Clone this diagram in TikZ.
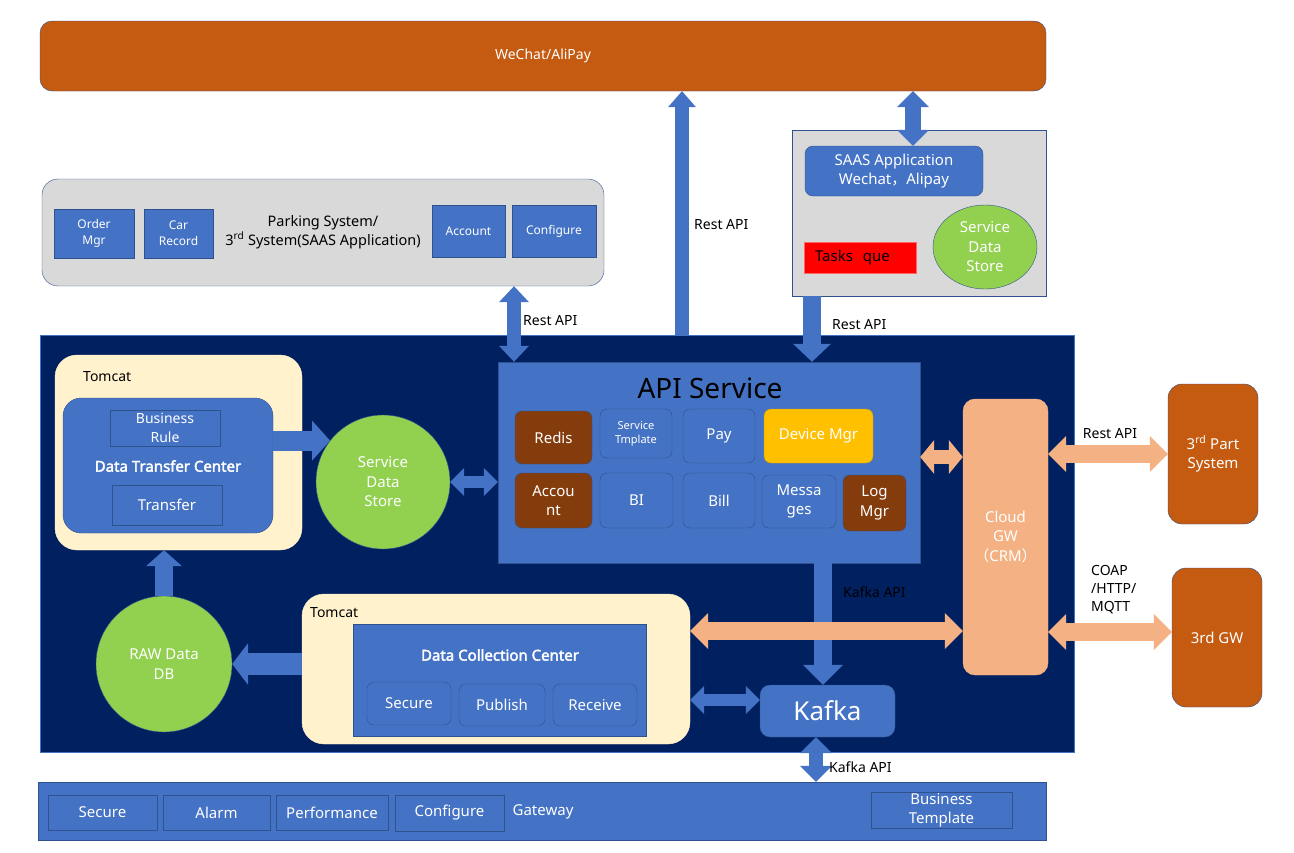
\documentclass[tikz,border=0pt]{standalone}
\usepackage{fontspec}
\setmainfont{Noto Sans}[AutoFakeBold=2.5]
\newfontfamily\cjk{Noto Sans CJK SC}
\usetikzlibrary{arrows.meta,shapes.geometric}

\definecolor{rust}{HTML}{C55A11}
\definecolor{navy}{HTML}{002060}
\definecolor{office}{HTML}{4472C4}
\definecolor{edge}{HTML}{2F528F}
\definecolor{cream}{HTML}{FFF2CC}
\definecolor{lgrey}{HTML}{D9D9D9}
\definecolor{lime}{HTML}{92D050}
\definecolor{brown}{HTML}{843C0C}
\definecolor{gold}{HTML}{FFC000}
\definecolor{peach}{HTML}{F4B183}

\begin{document}
\begin{tikzpicture}[x=1pt, y=-1pt,
    txt/.style={font=\fontsize{#1}{\fpeval{#1*1.3}}\selectfont},
    sq/.style 2 args={minimum width=#1, minimum height=#2},
    box/.style={draw=edge, fill=office, text=white, align=center, inner sep=1pt, txt=14},
    cell/.style={box, rounded corners=7pt, txt=15},
    tank/.style={circle, draw=edge, fill=lime, text=white, align=center, inner sep=0pt, txt=15},
    note/.style={text=black, align=left, inner sep=1pt, txt=14},
    pipe/.style={draw=office, line width=#1},
    warm/.style={draw=peach, line width=#1},
    one/.style 2 args={-{Triangle[width=#1, length=#2, line width=0pt]}},
    two/.style 2 args={{Triangle[width=#1, length=#2, line width=0pt]}-{Triangle[width=#1, length=#2, line width=0pt]}}]

    \useasboundingbox (0,0) rectangle (1294,852);

    % Top bar
    \node[box, fill=rust, sq={1006}{70}, rounded corners=12pt] (wechat) at (543,56) {WeChat/AliPay};

    % Parking system
    \node[box, fill=lgrey, sq={562}{107}, rounded corners=16pt] (parking) at (323,232.5) {};
    \node[box, sq={80}{49}, txt=12] (order) at (94,233.5) {Order\\Mgr};
    \node[box, sq={69}{49}, txt=12] (car) at (178.5,233.5) {Car\\Record};
    \node[note, align=center, txt=14.5] (ptitle) at (323,232) {Parking System/\\3\textsuperscript{rd} System(SAAS Application)};
    \node[box, sq={73}{52}, txt=12] (paccount) at (468.5,231) {Account};
    \node[box, sq={84}{52}, txt=12] (pconfig) at (554,231) {Configure};

    % SAAS application
    \node[box, fill=lgrey, sq={254}{166}] (saas) at (919,213) {};
    \node[box, sq={178}{50}, rounded corners=8pt, txt=15] (saasapp) at (894,171) {SAAS Application\\Wechat{\cjk ，}Alipay};
    \node[box, fill=red, draw=red!60, text=black, sq={112}{31}, text width=90, inner xsep=11pt, align=left, txt=15] (tasks) at (860,257.5) {Tasks\ \ que};
    \node[tank, ellipse, sq={104}{84}] (saasstore) at (985,247) {Service\\Data\\Store};

    % Main platform
    \node[box, fill=navy, draw=office, sq={1034}{417}] (main) at (557,543.5) {};

    \node[box, fill=cream, draw=cream, sq={247}{195}, rounded corners=22pt] (tomcatA) at (178.5,452.5) {};
    \node[note, anchor=west] (tomcatAlbl) at (82,377) {Tomcat};
    \node[box, sq={210}{135}, rounded corners=18pt] (dtc) at (168,465.5) {};
    \node[box, sq={110}{36}] (rule) at (165,428) {Business\\Rule};
    \node[text=white, font=\bfseries\fontsize{15}{18}\selectfont] (dtclbl) at (168,466) {Data Transfer Center};
    \node[box, sq={110}{40}, txt=15] (transfer) at (167,505) {Transfer};

    \node[tank, minimum size=134] (store) at (383,482) {Service\\Data\\Store};

    % API service
    \node[box, sq={422}{201}] (api) at (709,462.5) {};
    \node[text=black, txt=28, inner sep=0pt] (apilbl) at (710,388) {API Service};
    \node[cell, fill=brown, sq={77}{53}] (redis) at (553.5,437.5) {Redis};
    \node[cell, sq={72}{49}, txt=11] (tmpl) at (636,433.5) {Service\\Tmplate};
    \node[cell, sq={72}{54}] (pay) at (719,436) {Pay};
    \node[cell, fill=gold, draw=gold!80!black, sq={109}{54}] (device) at (818.5,436) {Device Mgr};
    \node[cell, fill=brown, sq={77}{55}] (acct) at (553.5,500.5) {Accou\\nt};
    \node[cell, sq={73}{55}] (bi) at (636.5,500.5) {BI};
    \node[cell, sq={72}{55}] (bill) at (719,500.5) {Bill};
    \node[cell, sq={74}{53}] (msg) at (799,501.5) {Messa\\ges};
    \node[cell, fill=brown, sq={63}{56}] (logmgr) at (874.5,503) {Log\\Mgr};

    % Gateways on the right
    \node[box, fill=peach, draw=peach, sq={85}{276}, rounded corners=12pt, txt=15] (cloud) at (1005.5,537) {Cloud\\GW\\{\cjk （}CRM{\cjk ）}};
    \node[box, fill=rust, sq={90}{140}, rounded corners=14pt, txt=15] (part) at (1213,454) {3\textsuperscript{rd} Part\\System};
    \node[box, fill=rust, sq={90}{139}, rounded corners=14pt, txt=15] (gwx) at (1217,637.5) {3rd GW};

    % Data collection
    \node[box, fill=cream, draw=cream, sq={388}{150}, rounded corners=22pt] (tomcatB) at (496,669) {};
    \node[note, anchor=west] (tomcatBlbl) at (309,613) {Tomcat};
    \node[box, sq={293}{112}] (dcc) at (499.5,680) {};
    \node[text=white, font=\bfseries\fontsize{15}{18}\selectfont] (dcclbl) at (500,655) {Data Collection Center};
    \node[cell, sq={84}{43}] (secure) at (409,703.5) {Secure};
    \node[cell, sq={86}{42}] (publish) at (502,705) {Publish};
    \node[cell, sq={84}{42}] (receive) at (595,705) {Receive};

    \node[tank, minimum size=136] (raw) at (164,664) {RAW Data\\DB};
    \node[box, sq={135}{52}, rounded corners=10pt, txt=26] (kafka) at (827.5,711) {Kafka};

    % Gateway bar
    \node[box, sq={1008}{58}] (gateway) at (542,811) {};
    \node[box, sq={109}{35}, txt=15] (gsecure) at (102.5,812.5) {Secure};
    \node[box, sq={107}{35}, txt=15] (galarm) at (216.5,812.5) {Alarm};
    \node[box, sq={112}{35}, txt=15] (gperf) at (332,812.5) {Performance};
    \node[box, sq={109}{36}, txt=15] (gconf) at (449.5,813) {Configure};
    \node[text=white, txt=15] (gwlbl) at (543,812) {Gateway};
    \node[box, sq={141}{35}, txt=15] (btmpl) at (941.5,810.5) {Business\\Template};

    % Connectors
    \draw[pipe=14pt, one={28pt}{16pt}] (main.north -| 682,0) -- (wechat.south -| 682,0);
    \node[note, anchor=west] (restA) at (693,225) {Rest API};
    \draw[pipe=16pt, two={32pt}{16pt}] (wechat.south -| 913,0) -- (saasapp.north -| 913,0);
    \draw[pipe=18pt, one={38pt}{18pt}] (saas.south -| 812,0) -- (api.north -| 812,0);
    \node[note, anchor=west] (restB) at (831,325) {Rest API};
    \draw[pipe=14pt, two={30pt}{16pt}] (parking.south -| 514,0) -- (api.north -| 514,0);
    \node[note, anchor=west] (restC) at (522,321) {Rest API};

    \draw[pipe=20pt, one={40pt}{18pt}] (dtc.east |- store.142) -- (store.142);
    \draw[pipe=12pt, two={28pt}{14pt}] (store.east) -- (api.west |- store.east);
    \draw[warm=14pt, two={34pt}{14pt}] (api.east |- 0,457) -- (cloud.west |- 0,457);
    \draw[warm=18pt, two={36pt}{18pt}] (cloud.east |- part.west) -- (part.west);
    \node[note, anchor=south] (restD) at (1110,440) {Rest API};
    \draw[warm=18pt, two={36pt}{18pt}] (cloud.east |- 0,632) -- (gwx.west |- 0,632);
    \node[note, anchor=south west] (coap) at (1090,615) {COAP\\/HTTP/\\MQTT};

    \draw[pipe=18pt, one={40pt}{20pt}] (api.south -| 823,0) -- (kafka.north -| 823,0);
    \node[note, anchor=west] (kafkaA) at (842,592) {Kafka API};
    \draw[warm=18pt, two={36pt}{18pt}] (tomcatB.east |- 0,631) -- (cloud.west |- 0,631);

    \draw[pipe=22pt, one={42pt}{16pt}] (tomcatB.west |- raw.east) -- (raw.east);
    \draw[pipe=18pt, one={36pt}{16pt}] (raw.north) -- (tomcatA.south -| raw.north);
    \draw[pipe=12pt, two={28pt}{14pt}] (tomcatB.east |- 0,700) -- (kafka.west |- 0,700);
    \draw[pipe=14pt, two={32pt}{16pt}] (kafka.south -| 816,0) -- (gateway.north -| 816,0);
    \node[note, anchor=west] (kafkaB) at (828,767) {Kafka API};
\end{tikzpicture}
\end{document}
